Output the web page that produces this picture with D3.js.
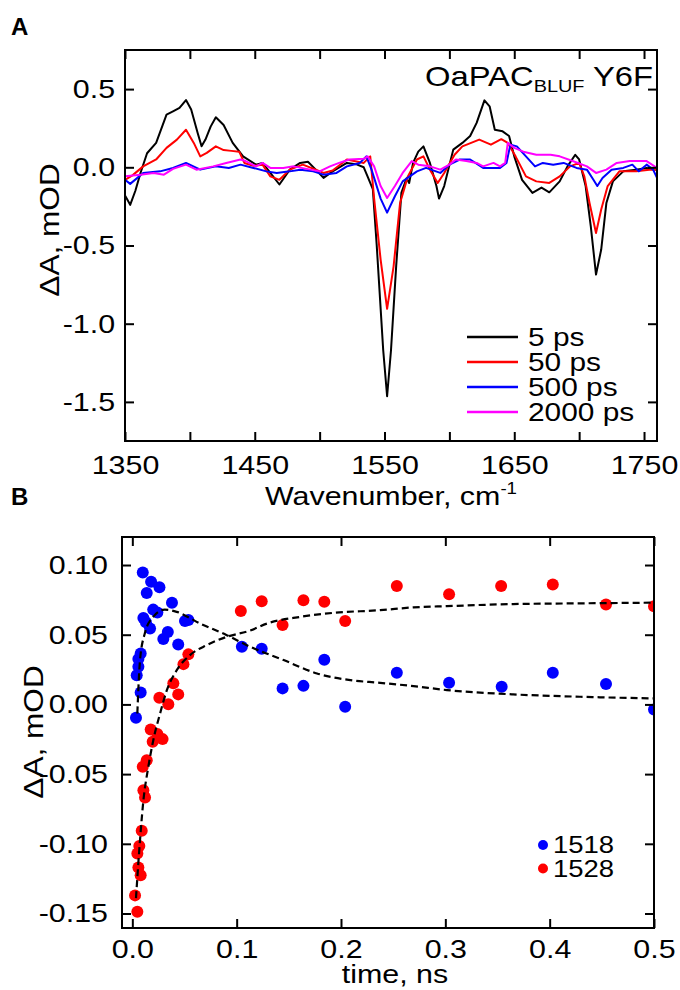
<!DOCTYPE html>
<html>
<head>
<meta charset="utf-8">
<script src="https://cdn.jsdelivr.net/npm/d3@7"></script>
<style>
  body { margin: 0; background: #fff; }
  text { font-family: "Liberation Sans", Arial, Helvetica, sans-serif; fill: #000; }
</style>
</head>
<body>
<svg id="fig"></svg>
<script>
// ---- panel A: transient IR spectra, [wavenumber, dA]
const spec5ps = [[1350,-0.18],[1354,-0.24],[1358,-0.15],[1362,-0.035],[1367,0.09],[1374,0.156],[1382,0.337],[1387,0.358],[1392,0.38],[1397,0.43],[1401,0.37],[1406,0.22],[1409,0.134],[1412,0.177],[1416,0.26],[1420,0.32],[1426,0.27],[1433,0.156],[1441,0.07],[1451,0.017],[1456,0.028],[1462,-0.036],[1469,-0.11],[1477,-0.015],[1485,0.028],[1491,0.035],[1497,-0.015],[1503,-0.068],[1510,-0.026],[1521,0.028],[1528,0.02],[1534,0.0],[1537,-0.06],[1541,-0.14],[1544,-0.5],[1549,-1.17],[1552,-1.464],[1555,-1.17],[1559,-0.63],[1563,-0.164],[1567,-0.07],[1569,-0.1],[1572,0.028],[1576,0.1],[1580,0.134],[1585,0.028],[1590,-0.12],[1592,-0.2],[1596,-0.12],[1603,0.113],[1610,0.156],[1616,0.2],[1621,0.284],[1627,0.428],[1631,0.39],[1635,0.24],[1641,0.23],[1646,0.2],[1650,0.07],[1656,-0.08],[1664,-0.164],[1671,-0.13],[1677,-0.16],[1685,-0.09],[1691,0.006],[1697,0.08],[1700,0.05],[1705,-0.12],[1709,-0.38],[1713,-0.686],[1717,-0.526],[1721,-0.228],[1726,-0.09],[1734,-0.026],[1744,-0.015],[1752,-0.004],[1760,-0.015]];
const spec50ps = [[1350,-0.08],[1356,-0.05],[1364,0.006],[1374,0.05],[1382,0.124],[1390,0.177],[1397,0.24],[1403,0.156],[1408,0.07],[1413,0.092],[1420,0.134],[1426,0.11],[1432,0.105],[1438,0.1],[1442,0.028],[1449,0.01],[1456,0.017],[1462,-0.058],[1469,-0.08],[1477,-0.015],[1487,0.017],[1497,-0.015],[1503,-0.036],[1510,-0.02],[1521,0.05],[1534,0.028],[1539,0.07],[1542,-0.2],[1547,-0.59],[1552,-0.905],[1557,-0.633],[1562,-0.228],[1568,-0.058],[1575,0.05],[1580,0.07],[1585,-0.015],[1591,-0.1],[1596,-0.036],[1604,0.08],[1610,0.134],[1623,0.177],[1632,0.145],[1640,0.18],[1645,0.156],[1651,0.07],[1659,-0.058],[1667,-0.09],[1677,-0.1],[1685,-0.058],[1693,0.006],[1700,0.028],[1704,-0.058],[1708,-0.228],[1713,-0.42],[1717,-0.27],[1722,-0.12],[1731,-0.026],[1744,-0.026],[1754,-0.015],[1760,-0.015]];
const spec500ps = [[1350,-0.08],[1354,-0.106],[1364,-0.036],[1377,-0.026],[1387,-0.004],[1397,0.028],[1408,-0.015],[1420,0.006],[1430,-0.004],[1439,0.017],[1449,-0.004],[1459,-0.026],[1467,-0.036],[1477,-0.026],[1485,-0.015],[1495,-0.026],[1503,-0.047],[1513,-0.036],[1521,0.006],[1531,0.028],[1536,0.07],[1540,-0.015],[1547,-0.2],[1552,-0.29],[1558,-0.185],[1564,-0.09],[1575,-0.026],[1582,-0.004],[1593,-0.036],[1600,0.017],[1608,0.05],[1616,0.05],[1626,-0.004],[1639,-0.004],[1644,0.028],[1647,0.145],[1652,0.134],[1659,0.07],[1666,0.006],[1672,0.028],[1680,0.017],[1688,0.028],[1698,-0.004],[1706,-0.015],[1711,-0.08],[1714,-0.12],[1718,-0.068],[1725,-0.015],[1734,-0.004],[1741,0.017],[1746,-0.026],[1752,0.017],[1757,-0.015],[1760,-0.068]];
const spec2000ps = [[1350,-0.058],[1362,-0.047],[1372,-0.036],[1380,-0.047],[1387,-0.01],[1397,0.017],[1405,-0.015],[1418,0.006],[1428,0.028],[1439,0.05],[1443,0.04],[1451,0.006],[1456,0.028],[1462,-0.004],[1472,-0.004],[1480,0.006],[1490,-0.01],[1500,-0.026],[1508,0.006],[1515,0.028],[1523,0.05],[1534,0.054],[1537,0.07],[1542,0.006],[1547,-0.12],[1552,-0.196],[1558,-0.12],[1564,-0.036],[1571,0.04],[1576,0.017],[1585,0.006],[1593,-0.015],[1600,0.017],[1605,0.05],[1613,0.04],[1621,0.028],[1626,0.006],[1634,0.028],[1639,0.006],[1643,0.028],[1645,0.156],[1650,0.124],[1657,0.1],[1667,0.08],[1678,0.08],[1685,0.07],[1695,0.04],[1706,0.006],[1713,-0.036],[1721,-0.015],[1729,0.028],[1739,0.04],[1752,0.04],[1760,-0.004]];
const specLabels = ['5 ps', '50 ps', '500 ps', '2000 ps'];
const specColors = ['#000000', '#ff0000', '#0000ff', '#ff00ff'];
const wnTicks = [1350, 1400, 1450, 1500, 1550, 1600, 1650, 1700, 1750];
const dATicks = [-1.5, -1.0, -0.5, 0.0, 0.5];

// ---- panel B: kinetics, [time ns, dA]
const kin1518 = [[0.0035,-0.0096],[0.0042,0.021],[0.0058,0.027],[0.0058,0.0325],[0.008,0.0366],[0.008,0.0086],[0.010,0.0947],[0.0106,0.062],[0.013,0.059],[0.0138,0.080],[0.017,0.0545],[0.018,0.088],[0.020,0.068],[0.024,0.066],[0.026,0.084],[0.0297,0.047],[0.034,0.052],[0.038,0.073],[0.044,0.043],[0.0505,0.0598],[0.0537,0.0605],[0.105,0.0413],[0.124,0.040],[0.144,0.0115],[0.164,0.0133],[0.184,0.032],[0.204,-0.0017],[0.2535,0.0227],[0.3036,0.0155],[0.354,0.0126],[0.403,0.0227],[0.454,0.0146],[0.5,-0.0036]];
const kin1528 = [[0.0026,-0.137],[0.0048,-0.1488],[0.0048,-0.107],[0.0058,-0.117],[0.0067,-0.1016],[0.008,-0.1225],[0.009,-0.0907],[0.010,-0.0448],[0.0106,-0.0615],[0.0122,-0.0667],[0.0138,-0.040],[0.0176,-0.018],[0.0195,-0.0268],[0.024,-0.0213],[0.029,-0.0249],[0.0259,0.0047],[0.0345,0.0002],[0.0393,0.0151],[0.044,0.0072],[0.049,0.0289],[0.0537,0.0359],[0.104,0.067],[0.124,0.074],[0.144,0.057],[0.164,0.0748],[0.184,0.0736],[0.204,0.0598],[0.2535,0.0849],[0.3036,0.079],[0.3535,0.0849],[0.403,0.086],[0.454,0.0717],[0.5,0.0705]];
const fit1518 = [[0.0048,-0.0065],[0.0074,0.032],[0.012,0.051],[0.020,0.0628],[0.031,0.068],[0.0425,0.0664],[0.065,0.058],[0.0905,0.0497],[0.113,0.0413],[0.145,0.0318],[0.177,0.0222],[0.209,0.0174],[0.2375,0.0155],[0.2695,0.0131],[0.3015,0.0103],[0.365,0.0072],[0.429,0.0055],[0.5,0.0043]];
const fit1528 = [[0.0035,-0.139],[0.0074,-0.097],[0.0106,-0.069],[0.0153,-0.045],[0.020,-0.026],[0.0266,-0.0065],[0.033,0.010],[0.0426,0.0246],[0.0553,0.0354],[0.0713,0.0425],[0.0905,0.0485],[0.113,0.053],[0.129,0.058],[0.161,0.0628],[0.193,0.0657],[0.2375,0.0676],[0.2695,0.0696],[0.3015,0.0705],[0.365,0.072],[0.429,0.0725],[0.5,0.073]];
const kinLabels = ['1518', '1528'];
const kinColors = ['#0000ff', '#ff0000'];
const timeTicks = [0, 0.1, 0.2, 0.3, 0.4, 0.5];
const kinTicks = [-0.15, -0.10, -0.05, 0.0, 0.05, 0.10];

const SX = 1.17; // the figure text is slightly wide

let svg = d3.select('#fig').attr('width', 680).attr('height', 990);

function label(g, x, y, str, size, anchor, rot) {
  return g.append('text')
    .attr('transform', 'translate(' + x + ',' + y + ')' + (rot ? ' rotate(-90)' : '') + ' scale(' + SX + ',1)')
    .attr('text-anchor', anchor || 'start')
    .style('font-size', size + 'px')
    .text(str);
}

function frame(g, x, y, pad, fmtX, fmtY, xTicks, yTicks) {
  let [x0, x1] = x.range(), [y0, y1] = y.range();
  let axes = [
    [d3.axisBottom(x).tickValues(xTicks).tickFormat(fmtX).tickPadding(pad.b), 'translate(0,' + y0 + ')'],
    [d3.axisTop(x).tickValues(xTicks).tickFormat(''), 'translate(0,' + y1 + ')'],
    [d3.axisLeft(y).tickValues(yTicks).tickFormat(fmtY).tickPadding(pad.l), 'translate(' + x0 + ',0)'],
    [d3.axisRight(y).tickValues(yTicks).tickFormat(''), 'translate(' + x1 + ',0)']
  ];
  axes.forEach(([ax, tr]) => {
    let a = g.append('g').attr('transform', tr)
      .call(ax.tickSizeInner(-9).tickSizeOuter(0));
    a.select('.domain').remove();
    a.selectAll('.tick line').attr('stroke', '#000').attr('stroke-width', 2);
    a.selectAll('.tick text')
      .attr('fill', '#000')
      .style('font-size', '26px')
      .style('font-family', '"Liberation Sans", Arial, sans-serif')
      .attr('transform', 'scale(' + SX + ',1)');
  });
  g.append('rect')
    .attr('x', x0).attr('y', y1)
    .attr('width', x1 - x0).attr('height', y0 - y1)
    .attr('fill', 'none').attr('stroke', '#000').attr('stroke-width', 2);
}

// ================= panel A =================
let xA = d3.scaleLinear().domain([1350, 1760]).range([125, 657]);
let yA = d3.scaleLinear().domain([-1.75, 0.75]).range([441, 50]);
let gA = svg.append('g');

gA.append('clipPath').attr('id', 'clipA').append('rect')
  .attr('x', 125).attr('y', 50).attr('width', 532).attr('height', 391);

let lineA = d3.line().x(d => xA(d[0])).y(d => yA(d[1]));
gA.append('g').attr('clip-path', 'url(#clipA)')
  .selectAll('path')
  .data([spec5ps, spec50ps, spec500ps, spec2000ps])
  .enter().append('path')
  .attr('d', lineA)
  .attr('fill', 'none')
  .attr('stroke', (d, i) => specColors[i])
  .attr('stroke-width', 2)
  .attr('stroke-linejoin', 'round');

frame(gA, xA, yA, { b: 15, l: 8.5 },
  d => (d % 100 === 50 ? d : ''), d => d.toFixed(1), wnTicks, dATicks);

let legA = gA.append('g').selectAll('g').data(specLabels).enter().append('g')
  .attr('transform', (d, i) => 'translate(467,' + (337 + i * 25) + ')');
legA.append('line').attr('x1', 0).attr('x2', 51)
  .attr('stroke', (d, i) => specColors[i]).attr('stroke-width', 2.5);
legA.each(function(d) { label(d3.select(this), 61, 9, d, 25.5); });

let ttl = gA.append('text')
  .attr('transform', 'translate(425,86) scale(' + SX + ',1)')
  .style('font-size', '28px');
ttl.append('tspan').text('OaPAC');
ttl.append('tspan').attr('dy', 6).style('font-size', '17px').text('BLUF');
ttl.append('tspan').attr('dy', -6).text(' Y6F');

let xtA = gA.append('text')
  .attr('transform', 'translate(391,505) scale(' + SX + ',1)')
  .attr('text-anchor', 'middle')
  .style('font-size', '26px');
xtA.append('tspan').text('Wavenumber, cm');
xtA.append('tspan').attr('dy', -11).style('font-size', '16px').text('-1');

label(gA, 59, 230, '\u0394A, mOD', 27, 'middle', true);
svg.append('text').attr('x', 11).attr('y', 35)
  .style('font-size', '24px').style('font-weight', 'bold').text('A');

// ================= panel B =================
let xB = d3.scaleLinear().domain([-0.0099, 0.5]).range([122, 654]);
let yB = d3.scaleLinear().domain([-0.1604, 0.1201]).range([928, 537]);
let gB = svg.append('g');

gB.append('clipPath').attr('id', 'clipB').append('rect')
  .attr('x', 122).attr('y', 537).attr('width', 532).attr('height', 391);

let plotB = gB.append('g').attr('clip-path', 'url(#clipB)');
[kin1518, kin1528].forEach((pts, i) => {
  plotB.append('g').selectAll('circle').data(pts).enter().append('circle')
    .attr('cx', d => xB(d[0]))
    .attr('cy', d => yB(d[1]))
    .attr('r', 6)
    .attr('fill', kinColors[i]);
});

let lineB = d3.line().curve(d3.curveMonotoneX).x(d => xB(d[0])).y(d => yB(d[1]));
plotB.selectAll('.fit').data([fit1518, fit1528]).enter().append('path')
  .attr('class', 'fit')
  .attr('d', lineB)
  .attr('fill', 'none')
  .attr('stroke', '#000')
  .attr('stroke-width', 2.2)
  .attr('stroke-dasharray', '7,4');

frame(gB, xB, yB, { b: 12, l: 12 },
  d => d.toFixed(1), d => d.toFixed(2), timeTicks, kinTicks);

let legB = gB.append('g').selectAll('g').data(kinLabels).enter().append('g')
  .attr('transform', (d, i) => 'translate(543,' + (845 + i * 23.5) + ')');
legB.append('circle').attr('r', 5).attr('fill', (d, i) => kinColors[i]);
legB.each(function(d) { label(d3.select(this), 10, 8, d, 23.5); });

label(gB, 395, 983, 'time, ns', 26, 'middle');
label(gB, 43, 732, '\u0394A, mOD', 27, 'middle', true);
svg.append('text').attr('x', 11).attr('y', 505)
  .style('font-size', '24px').style('font-weight', 'bold').text('B');
</script>
</body>
</html>
